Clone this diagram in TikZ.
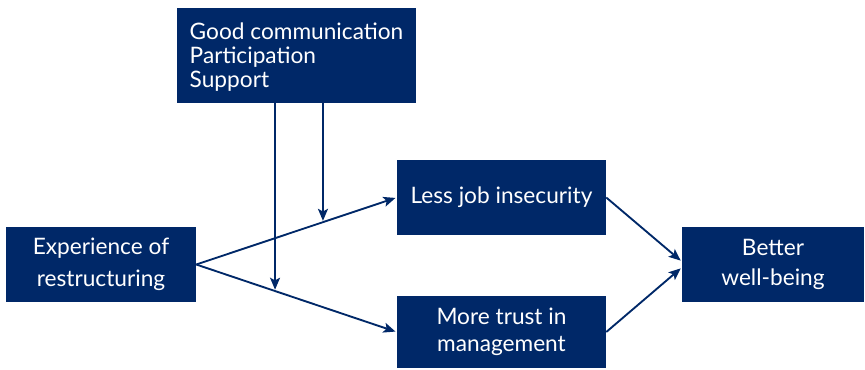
\documentclass[tikz,border=0pt]{standalone}
\usepackage{fontspec}
\setmainfont{Lato}
\usetikzlibrary{arrows,arrows.meta,calc}
\definecolor{navy}{RGB}{0,40,104}

\begin{document}
\begin{tikzpicture}[x=0.75pt,y=-0.75pt,
box/.style={
rectangle,
fill=navy,
text=white,
inner sep=0pt,
align=center,
font=\fontsize{17}{23}\selectfont
},
to/.style={->,>={Stealth[length=9pt,width=7.5pt,inset=2pt]},shorten >=1pt,line width=1.4pt,draw=navy},]

\useasboundingbox (0,0) rectangle (865,369);
\node (mod) [box,align=left,font=\fontsize{17}{18}\selectfont,minimum width=179.25pt,minimum height=71.25pt,text depth=-6pt] at (296.5,55.5) {Good communication\\Participation\\Support};
\node (exp) [box,font=\fontsize{17}{24}\selectfont,minimum width=142.5pt,minimum height=56.25pt] at (101,264.5) {Experience of\\restructuring};
\node (job) [box,minimum width=156.75pt,minimum height=56.25pt] at (501.5,197.5) {Less job insecurity};
\node (trust) [box,font=\fontsize{17}{20}\selectfont,minimum width=156.75pt,minimum height=54pt] at (501.5,332) {More trust in\\management};
\node (well) [box,minimum width=136.5pt,minimum height=56.25pt] at (773,264.5) {Better\\well-being};
\coordinate (m1) at ($(exp.east)!0.632!(job.west)$);
\coordinate (m2) at ($(exp.east)!0.393!(trust.west)$);
\draw[to] (exp.east) -- (job.west);
\draw[to] (exp.east) -- (trust.west);
\draw[to] (mod.south -| m1) -- (m1);
\draw[to] (mod.south -| m2) -- (m2);
\draw[to] (job.east) -- ($(well.west)+(0,-3)$);
\draw[to] (trust.east) -- ($(well.west)+(0,3)$);
\end{tikzpicture}
\end{document}
